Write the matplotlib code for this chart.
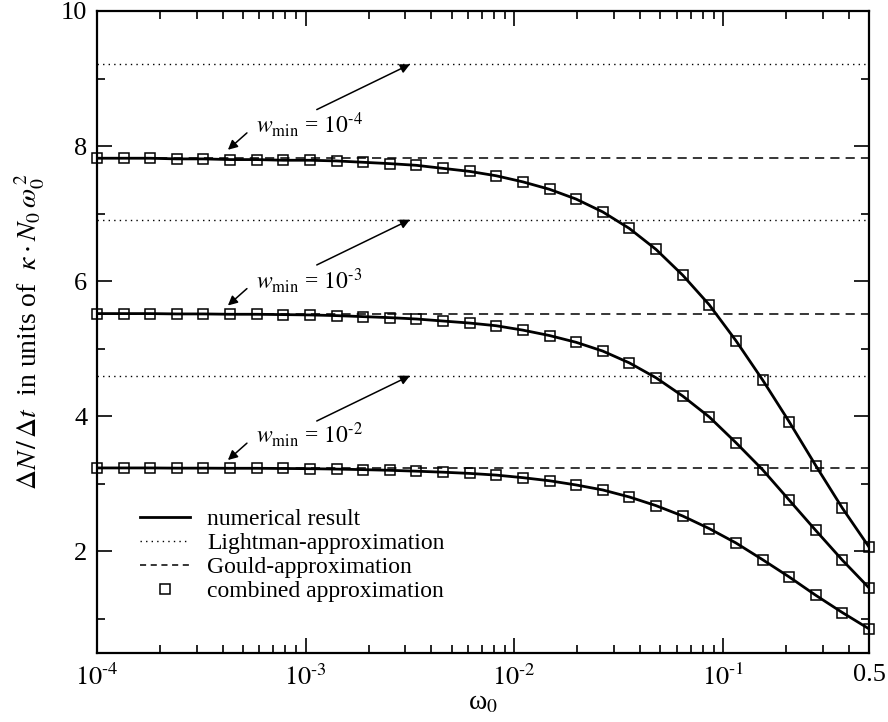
import numpy as np
import matplotlib
matplotlib.use("Agg")
import matplotlib.pyplot as plt
from matplotlib.lines import Line2D

plt.rcParams['font.family'] = ['Liberation Serif', 'DejaVu Serif']
plt.rcParams['mathtext.fontset'] = 'stix'

# ---- data ----
omega0 = np.logspace(-4, np.log10(0.5), 30)
w_min_labels = [r'$10^{\text{-4}}$', r'$10^{\text{-3}}$', r'$10^{\text{-2}}$']

numerical_w4 = [7.82, 7.82, 7.82, 7.81, 7.81, 7.80, 7.80, 7.79, 7.79, 7.78,
                7.76, 7.74, 7.715, 7.67, 7.625, 7.56, 7.47, 7.36, 7.215, 7.025,
                6.78, 6.47, 6.09, 5.65, 5.12, 4.54, 3.92, 3.27, 2.64, 2.065]
numerical_w3 = [5.52, 5.52, 5.52, 5.515, 5.515, 5.51, 5.51, 5.505, 5.50, 5.49,
                5.475, 5.46, 5.44, 5.41, 5.38, 5.34, 5.275, 5.195, 5.095, 4.965,
                4.79, 4.57, 4.30, 3.99, 3.61, 3.21, 2.76, 2.31, 1.87, 1.46]
numerical_w2 = [3.235, 3.235, 3.235, 3.232, 3.232, 3.23, 3.23, 3.227, 3.224, 3.218,
                3.21, 3.20, 3.187, 3.172, 3.154, 3.129, 3.091, 3.045, 2.983, 2.909,
                2.805, 2.677, 2.524, 2.337, 2.125, 1.878, 1.622, 1.35, 1.094, 0.853]
combined_w4 = numerical_w4
combined_w3 = numerical_w3
combined_w2 = numerical_w2

lightman = [9.21, 6.91, 4.60]
gould = [7.825, 5.52, 3.232]

xticks = [1e-4, 1e-3, 1e-2, 1e-1, 0.5]
xticklabels = [r'$10^{\text{-4}}$', r'$10^{\text{-3}}$', r'$10^{\text{-2}}$',
               r'$10^{\text{-1}}$', '0.5']
yticks = [2, 4, 6, 8, 10]

# ---- figure ----
fig = plt.figure(figsize=(8.88, 7.22), dpi=100)
ax = fig.add_axes([0.1092, 0.0960, 0.8694, 0.8888])

xmin, xmax = 1e-4, 0.5
for yl in lightman:
    ax.plot([xmin, xmax], [yl, yl], color='k', lw=1.0, ls=(0, (1, 3)))
for yg in gould:
    ax.plot([xmin, xmax], [yg, yg], color='k', lw=1.1, ls=(0, (6, 4)))

for num in (numerical_w4, numerical_w3, numerical_w2):
    ax.plot(omega0, num, color='k', lw=2.0, zorder=3)
for comb in (combined_w4, combined_w3, combined_w2):
    ax.plot(omega0, comb, ls='none', marker='s', ms=7, mfc='none', mec='k',
            mew=1.1, zorder=4, clip_on=False)

# annotations
for lab, yl, yg in zip(w_min_labels, lightman, gould):
    ax.text(5.8e-4, yg + 0.37, r'$w_{\rm min}$ = ' + lab, fontsize=17,
            ha='left', va='baseline')
    ax.annotate('', xy=(4.24e-4, yg + 0.12), xytext=(5.23e-4, yg + 0.37),
                arrowprops=dict(arrowstyle='-|>', color='k', lw=1.1,
                                mutation_scale=14, shrinkA=0, shrinkB=0))
    ax.annotate('', xy=(3.16e-3, yl), xytext=(1.13e-3, yl - 0.67),
                arrowprops=dict(arrowstyle='-|>', color='k', lw=1.1,
                                mutation_scale=14, shrinkA=0, shrinkB=0))

ax.set_xscale('log')
ax.set_xlim(xmin, xmax)
ax.set_ylim(0.5, 10)
ax.set_xticks(xticks)
ax.set_xticklabels(xticklabels)
ax.set_yticks(yticks)
ax.set_yticks([1, 3, 5, 7, 9], minor=True)
ax.tick_params(which='both', direction='in', top=True, right=True, width=1.2,
               labelsize=19)
ax.tick_params(which='major', length=11)
ax.tick_params(which='minor', length=6)
ax.tick_params(axis='x', pad=8)
ax.tick_params(axis='y', pad=7)
for s in ax.spines.values():
    s.set_linewidth(1.6)

ax.set_xlabel(r'ω$_0$', fontsize=20, labelpad=0)
ax.set_ylabel(r'$\Delta N\,/\,\Delta t$  in units of  $\kappa\cdot N_0\,\omega_0^{\,2}$',
              fontsize=20, labelpad=10)

handles = [Line2D([], [], color='k', lw=2.0),
           Line2D([], [], color='k', lw=1.0, ls=(0, (1, 3))),
           Line2D([], [], color='k', lw=1.1, ls=(0, (4, 3))),
           Line2D([], [], ls='none', marker='s', ms=7, mfc='none', mec='k', mew=1.1)]
labels = ['numerical result', 'Lightman-approximation', 'Gould-approximation',
          'combined approximation']
ax.legend(handles, labels, loc='upper left', bbox_to_anchor=(0.0557, 0.224),
          frameon=False, fontsize=17, handlelength=2.1, handletextpad=0.75,
          labelspacing=0.1, borderpad=0, borderaxespad=0)

fig.savefig('out.png', dpi=100)
